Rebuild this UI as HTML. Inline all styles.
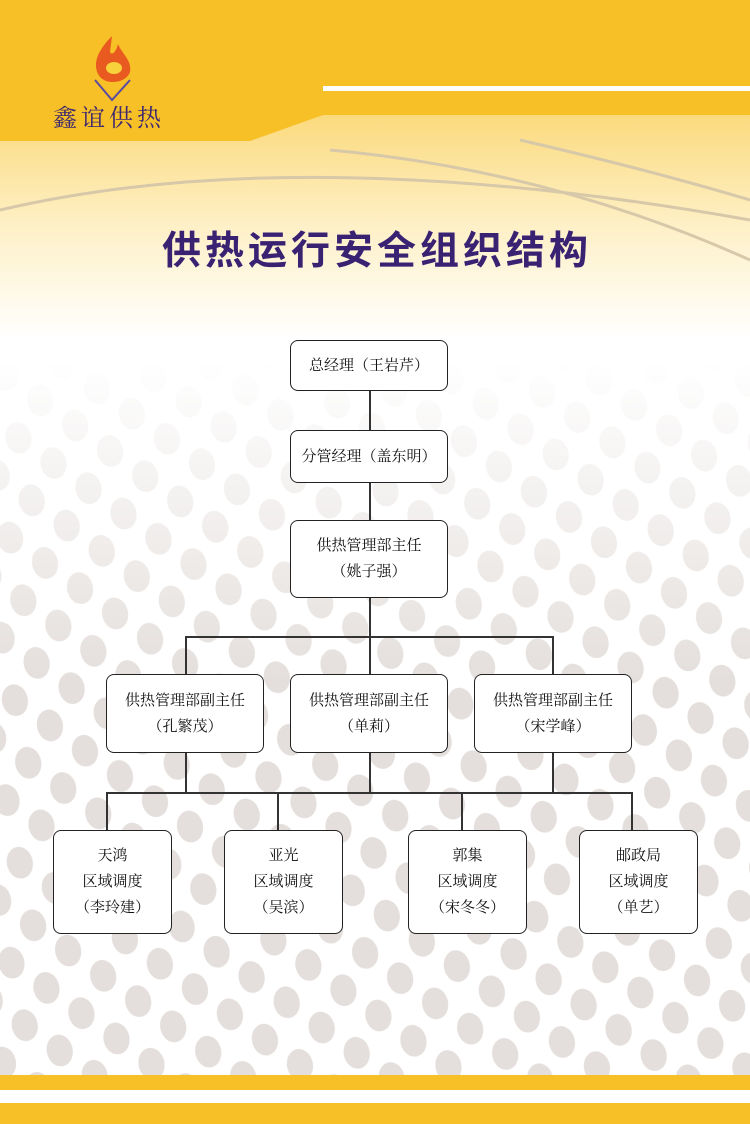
<!DOCTYPE html>
<html><head><meta charset="utf-8"><style>
body{margin:0;width:750px;height:1124px;overflow:hidden;position:relative;background:#fff;font-family:"Liberation Serif","Noto Serif CJK SC",serif}
.b{position:absolute;border:1.5px solid #222;border-radius:8px;background:#fff;box-sizing:border-box;display:flex;align-items:center;justify-content:center;text-align:center;font-size:15px;line-height:26px;color:#111}
.l{position:absolute;background:#333}
</style></head><body>
<svg width="750" height="1124" style="position:absolute;left:0;top:0">
<defs>
<linearGradient id="g" x1="0" y1="0" x2="0" y2="1"><stop offset="0" stop-color="#fbd97a"/><stop offset="0.5" stop-color="#fef0c6"/><stop offset="1" stop-color="#ffffff"/></linearGradient>
<pattern id="d" width="58" height="64" patternUnits="userSpaceOnUse" patternTransform="rotate(-12)">
<ellipse cx="14" cy="16" rx="13" ry="16" fill="#e4dfdc"/><ellipse cx="43" cy="48" rx="13" ry="16" fill="#e4dfdc"/>
</pattern>
<linearGradient id="fm" x1="0" y1="0" x2="0" y2="1"><stop offset="0" stop-color="#fff" stop-opacity="1"/><stop offset="0.45" stop-color="#fff" stop-opacity="0"/><stop offset="1" stop-color="#fff" stop-opacity="0"/></linearGradient>
</defs>
<rect x="0" y="110" width="750" height="230" fill="url(#g)"/>
<rect x="0" y="360" width="750" height="715" fill="url(#d)"/>
<rect x="0" y="360" width="750" height="715" fill="url(#fm)"/>
<path d="M0 210 Q300 140 750 220" stroke="#d6c8a8" stroke-width="3" fill="none"/>
<path d="M330 150 Q550 170 750 260" stroke="#d6c8a8" stroke-width="3" fill="none"/>
<path d="M520 140 Q650 170 750 200" stroke="#d6c8a8" stroke-width="3" fill="none"/>
<path d="M0 0 H750 V115 H323 L250 141 H0 Z" fill="#f8c027"/>
<rect x="323" y="86" width="427" height="5" fill="#fff"/>
<rect x="0" y="1075" width="750" height="15" fill="#f8c027"/>
<rect x="0" y="1103" width="750" height="21" fill="#f8c027"/>
<path d="M112 36 C100 48 92 62 98 74 C104 86 126 84 130 72 C132 60 122 54 118 44 C116 52 112 56 110 52 Z" fill="#e85a20"/>
<ellipse cx="114" cy="68" rx="8" ry="6" fill="#f7d23a"/>
<path d="M95 80 L112 100 L130 80" stroke="#5a4aa0" stroke-width="2" fill="none"/>
<text x="53" y="126" font-size="24" fill="#3b2670" letter-spacing="4" font-family="Noto Serif CJK SC,serif">鑫谊供热</text>
<text x="377" y="264" font-size="39" font-weight="bold" fill="#3a2272" text-anchor="middle" font-family="Noto Sans CJK SC,sans-serif" letter-spacing="4">供热运行安全组织结构</text>
</svg>
<div class="l" style="left:369px;top:390px;width:1.5px;height:40px"></div>
<div class="l" style="left:369px;top:482px;width:1.5px;height:38px"></div>
<div class="l" style="left:369px;top:597px;width:1.5px;height:77px"></div>
<div class="l" style="left:185px;top:636px;width:369px;height:1.5px"></div>
<div class="l" style="left:185px;top:636px;width:1.5px;height:38px"></div>
<div class="l" style="left:552px;top:636px;width:1.5px;height:38px"></div>
<div class="l" style="left:369px;top:752px;width:1.5px;height:40px"></div>
<div class="l" style="left:185px;top:752px;width:1.5px;height:40px"></div>
<div class="l" style="left:552px;top:752px;width:1.5px;height:40px"></div>
<div class="l" style="left:106px;top:792px;width:526px;height:1.5px"></div>
<div class="l" style="left:106px;top:792px;width:1.5px;height:38px"></div>
<div class="l" style="left:277px;top:792px;width:1.5px;height:38px"></div>
<div class="l" style="left:461px;top:792px;width:1.5px;height:38px"></div>
<div class="l" style="left:631px;top:792px;width:1.5px;height:38px"></div>
<div class="b" style="left:290px;top:340px;width:158px;height:51px">总经理（王岩芹）</div>
<div class="b" style="left:290px;top:430px;width:158px;height:53px">分管经理（盖东明）</div>
<div class="b" style="left:290px;top:520px;width:158px;height:78px">供热管理部主任<br>（姚子强）</div>
<div class="b" style="left:106px;top:674px;width:158px;height:79px">供热管理部副主任<br>（孔繁茂）</div>
<div class="b" style="left:290px;top:674px;width:158px;height:79px">供热管理部副主任<br>（单莉）</div>
<div class="b" style="left:474px;top:674px;width:158px;height:79px">供热管理部副主任<br>（宋学峰）</div>
<div class="b" style="left:53px;top:830px;width:119px;height:104px">天鸿<br>区域调度<br>（李玲建）</div>
<div class="b" style="left:224px;top:830px;width:119px;height:104px">亚光<br>区域调度<br>（吴滨）</div>
<div class="b" style="left:408px;top:830px;width:119px;height:104px">郭集<br>区域调度<br>（宋冬冬）</div>
<div class="b" style="left:579px;top:830px;width:119px;height:104px">邮政局<br>区域调度<br>（单艺）</div>
</body></html>
